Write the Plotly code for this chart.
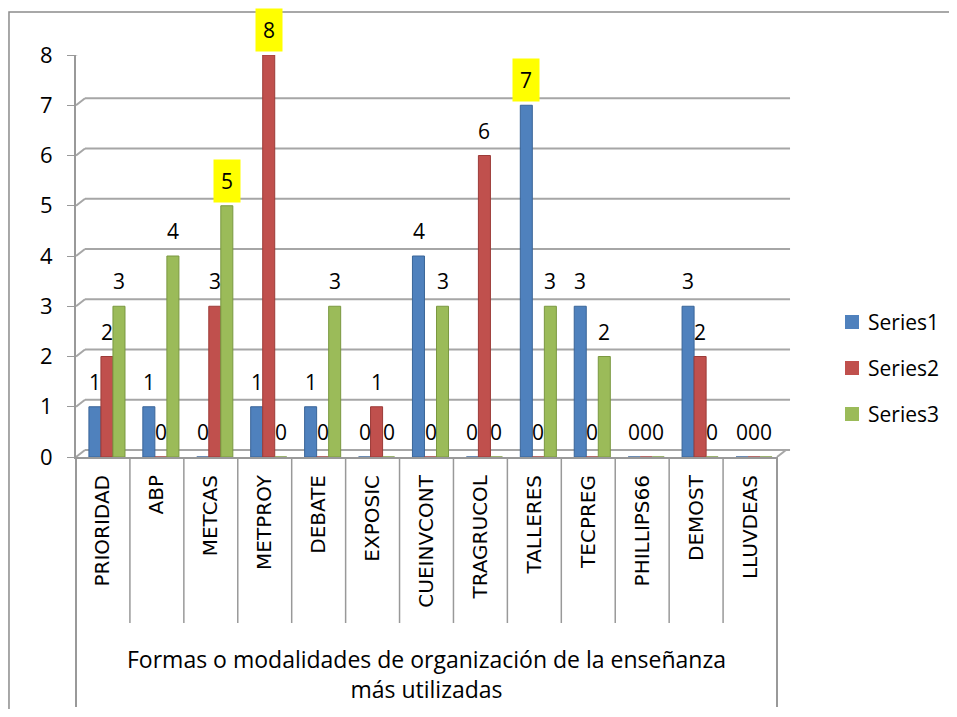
import plotly.graph_objects as go

categories = ["PRIORIDAD", "ABP", "METCAS", "METPROY", "DEBATE", "EXPOSIC",
              "CUEINVCONT", "TRAGRUCOL", "TALLERES", "TECPREG", "PHILLIPS66",
              "DEMOST", "LLUVDEAS"]
series1 = [1, 1, 0, 1, 1, 0, 4, 0, 7, 3, 0, 3, 0]
series2 = [2, 0, 3, 8, 0, 1, 0, 6, 0, 0, 0, 2, 0]
series3 = [3, 4, 5, 0, 3, 0, 3, 0, 3, 2, 0, 0, 0]
series_names = ["Series1", "Series2", "Series3"]
colors = ["#4F81BD", "#C0504D", "#9BBB59"]
edge_colors = ["#3A6598", "#9C3B38", "#7A9840"]
y_ticks = [0, 1, 2, 3, 4, 5, 6, 7, 8]
axis_title = "Formas o modalidades de organización de la enseñanza<br>más utilizadas"

all_series = [series1, series2, series3]

BAR_W = 0.223      # bar width in category units
SHIFT = 0.074      # 3D-like shift of the group to the right
fig = go.Figure()
for si, (name, vals, c, ec) in enumerate(zip(series_names, all_series, colors, edge_colors)):
    fig.add_trace(go.Bar(
        x=categories, y=vals, name=name, showlegend=False,
        width=BAR_W, offset=-1.5 * BAR_W + si * BAR_W + SHIFT,
        marker=dict(color=c, line=dict(color=ec, width=1)),
    ))

# data labels: highlight the maximum of each series in yellow
bar_px = 12
annotations = []
for si, vals in enumerate(all_series):
    mx = max(vals)
    for cat, v in zip(categories, vals):
        hl = (v == mx)
        annotations.append(dict(
            x=cat, y=v, xref="x", yref="y", text=str(v), showarrow=False,
            xshift=(si - 1) * bar_px + 4, yshift=25, yanchor="middle",
            font=dict(family="Open Sans", size=21, color="black"),
            bgcolor="#FFFF00" if hl else None,
            borderpad=7 if hl else 0,
        ))

annotations.append(dict(
    x=0.5, y=-0.54, xref="paper", yref="paper", text=axis_title,
    showarrow=False, yanchor="middle",
    font=dict(family="Open Sans", size=23, color="black"),
))

grey = "#999999"
gridc = "#a6a6a6"
shapes = []
# outer chart border
shapes.append(dict(type="rect", xref="paper", yref="paper",
                   x0=-0.0956, x1=1.6, y0=-1.0, y1=1.107,
                   line=dict(color="#8c8c8c", width=1.5), layer="below"))
# back-wall gridlines (3D look) and their diagonal connectors
for t in y_ticks:
    shapes.append(dict(type="line", xref="paper", yref="y",
                       x0=0.0128, x1=1.0186, ysizemode="pixel", yanchor=t, y0=7, y1=7,
                       line=dict(color=gridc, width=2), layer="below"))
    shapes.append(dict(type="line", xref="paper", yref="y",
                       xsizemode="pixel", xanchor=0, x0=0, x1=9,
                       ysizemode="pixel", yanchor=t, y0=0, y1=7,
                       line=dict(color=gridc, width=2), layer="below"))
# floor right diagonal
shapes.append(dict(type="line", xref="paper", yref="y",
                   xsizemode="pixel", xanchor=1, x0=0, x1=9,
                   ysizemode="pixel", yanchor=0, y0=0, y1=7,
                   line=dict(color=gridc, width=2)))
# category table box
shapes.append(dict(type="line", xref="paper", yref="paper", x0=0, x1=0,
                   y0=0, y1=-0.622, line=dict(color=grey, width=2)))
shapes.append(dict(type="line", xref="paper", yref="paper", x0=1, x1=1,
                   y0=0, y1=-0.622, line=dict(color=grey, width=2)))
for i in range(1, len(categories)):
    shapes.append(dict(type="line", xref="x", yref="paper", x0=i - 0.5, x1=i - 0.5,
                       y0=-0.005, y1=-0.413, line=dict(color=grey, width=1.5)))

# manual legend
leg_y = [0.3358, 0.2214, 0.107]
for name, c, ly in zip(series_names, colors, leg_y):
    shapes.append(dict(type="rect", xref="paper", yref="paper",
                       x0=1.097, x1=1.117, y0=ly - 0.0174, y1=ly + 0.0174,
                       fillcolor=c, line=dict(width=0)))
    annotations.append(dict(x=1.127, y=ly, xref="paper", yref="paper", text=name,
                            showarrow=False, xanchor="left", yanchor="middle",
                            font=dict(family="Open Sans", size=21, color="black")))

fig.update_layout(
    width=941, height=701,
    margin=dict(l=68, r=172, t=47, b=252),
    paper_bgcolor="white", plot_bgcolor="white",
    barmode="group",
    showlegend=False,
    annotations=annotations,
    shapes=shapes,
)
fig.update_xaxes(
    tickangle=-90, tickfont=dict(family="DejaVu Sans", size=20, color="black"),
    showline=True, linecolor=grey, linewidth=2, ticks="", showgrid=False,
    ticklabelstandoff=8,
)
fig.update_yaxes(
    range=[0, 8], tickvals=y_ticks, ticktext=[str(t) for t in y_ticks],
    tickfont=dict(family="Open Sans", size=22, color="black"),
    showline=True, linecolor=grey, linewidth=2,
    ticks="outside", ticklen=7, tickcolor=grey,
    showgrid=False, zeroline=False,
    ticklabelstandoff=10,
)

fig.write_html("out.html")
